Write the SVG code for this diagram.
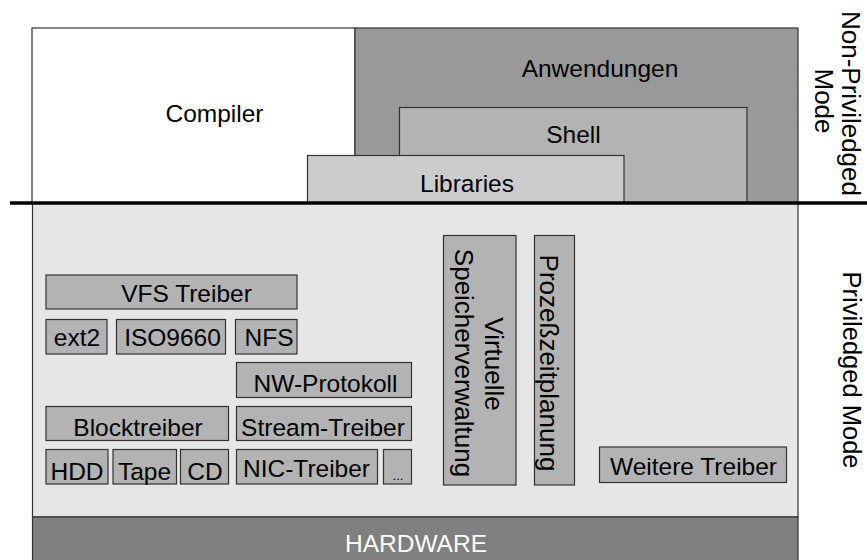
<svg xmlns="http://www.w3.org/2000/svg" width="867" height="560" viewBox="0 0 867 560">
<style>
text{font-family:"Liberation Sans",Arial,sans-serif;font-size:24.5px;fill:#000;text-anchor:middle}
.v{font-size:26px}
.box{stroke:#333;stroke-width:1.2}
.sm{fill:#b3b3b3}
</style>
<rect x="0" y="0" width="867" height="560" fill="#fff"/>
<g id="compiler">
<rect class="box" x="32" y="28" width="323" height="175" fill="#fff"/>
<text x="214.5" y="122">Compiler</text>
</g>
<g id="anwendungen">
<rect class="box" x="355" y="28" width="443" height="175" fill="#999"/>
<text x="600" y="77">Anwendungen</text>
</g>
<g id="shell">
<rect class="box" x="399.5" y="107.5" width="347.5" height="95.5" fill="#b3b3b3"/>
<text x="573.5" y="143">Shell</text>
</g>
<g id="libraries">
<rect class="box" x="307.5" y="155.5" width="316.5" height="47.5" fill="#ccc"/>
<text x="467" y="192">Libraries</text>
</g>
<g id="kernel">
<rect class="box" x="32.5" y="203" width="765.5" height="314" fill="#e6e6e6"/>
</g>
<g id="hardware">
<rect class="box" x="32.5" y="517" width="765.5" height="50" fill="#808080"/>
<text x="416" y="552" style="fill:#fff">HARDWARE</text>
</g>
<g id="vfs"><rect class="box sm" x="46" y="275" width="251" height="34"/><text x="186.5" y="302">VFS Treiber</text></g>
<g id="ext2"><rect class="box sm" x="46" y="319.5" width="61" height="34.5"/><text x="77" y="346">ext2</text></g>
<g id="iso9660"><rect class="box sm" x="116.5" y="319.5" width="109" height="34.5"/><text x="172.5" y="346">ISO9660</text></g>
<g id="nfs"><rect class="box sm" x="235.5" y="319.5" width="61.5" height="34.5"/><text x="269" y="346">NFS</text></g>
<g id="nw"><rect class="box sm" x="236.5" y="362.5" width="175" height="35"/><text x="325.5" y="392">NW-Protokoll</text></g>
<g id="block"><rect class="box sm" x="46" y="406.5" width="182.5" height="34"/><text x="138" y="436">Blocktreiber</text></g>
<g id="stream"><rect class="box sm" x="236.5" y="406.5" width="175" height="34"/><text x="323" y="436">Stream-Treiber</text></g>
<g id="hdd"><rect class="box sm" x="46" y="449.5" width="62" height="34.5"/><text x="77" y="479.5">HDD</text></g>
<g id="tape"><rect class="box sm" x="113" y="449.5" width="63.5" height="34.5"/><text x="144.5" y="479.5">Tape</text></g>
<g id="cd"><rect class="box sm" x="180.5" y="449.5" width="48" height="34.5"/><text x="205" y="479.5">CD</text></g>
<g id="nic"><rect class="box sm" x="236.5" y="449.5" width="141" height="34.5"/><text x="306.5" y="477">NIC-Treiber</text></g>
<g id="more"><rect class="box sm" x="383.5" y="449.5" width="28" height="34.5"/><text x="398" y="480" style="font-size:13px">...</text></g>
<g id="vsv"><rect class="box sm" x="443.5" y="235.5" width="72.5" height="249.5"/>
<g transform="translate(485,364) rotate(90)"><text class="v" x="0" y="0">Virtuelle</text></g>
<g transform="translate(455,363) rotate(90)"><text class="v" x="0" y="0">Speicherverwaltung</text></g></g>
<g id="proz"><rect class="box sm" x="534.5" y="235.5" width="40" height="249.5"/>
<g transform="translate(540,363) rotate(90)"><text class="v" x="0" y="0">Prozeßzeitplanung</text></g></g>
<g id="weitere"><rect class="box sm" x="599.5" y="447" width="187" height="35.5"/><text x="693.5" y="475">Weitere Treiber</text></g>
<g id="connectors">
<line x1="10" y1="203" x2="867" y2="203" stroke="#000" stroke-width="3.5"/>
</g>
<g id="labels">
<g transform="translate(842,103.5) rotate(90)"><text class="v" x="0" y="0">Non-Priviledged</text></g>
<g transform="translate(815,101) rotate(90)"><text class="v" x="0" y="0">Mode</text></g>
<g transform="translate(843,370) rotate(90)"><text class="v" x="0" y="0" style="font-size:25.5px">Priviledged Mode</text></g>
</g>
</svg>
